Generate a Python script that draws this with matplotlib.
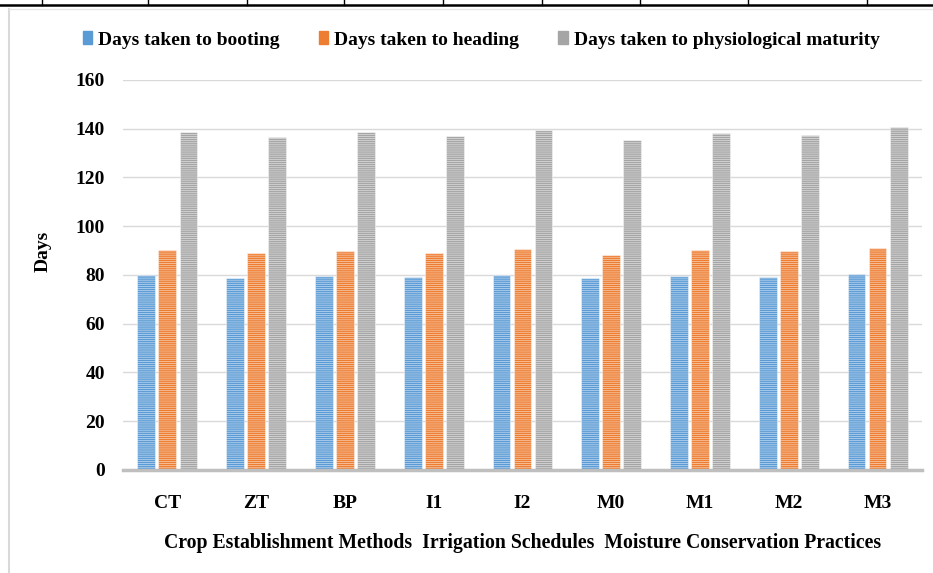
import numpy as np
import matplotlib
matplotlib.use("Agg")
import matplotlib.pyplot as plt
from matplotlib.lines import Line2D

# values
treatments = ['CT', 'ZT', 'BP', 'I1', 'I2', 'M0', 'M1', 'M2', 'M3']
booting = [80.0, 78.8, 79.7, 79.3, 80.0, 78.8, 79.7, 79.3, 80.4]
heading = [90.4, 89.0, 89.8, 89.0, 90.8, 88.2, 90.4, 89.8, 91.2]
maturity = [138.8, 136.8, 138.8, 137.2, 139.4, 135.4, 138.4, 137.6, 140.7]
series_names = ['Days taken to booting', 'Days taken to heading',
                'Days taken to physiological maturity']
y_ticks = [0, 20, 40, 60, 80, 100, 120, 140, 160]

colors = ['#5B9BD5', '#ED7D31', '#A5A5A5']

plt.rcParams['font.family'] = ['Liberation Serif', 'DejaVu Serif']
plt.rcParams['font.weight'] = 'bold'
plt.rcParams['hatch.linewidth'] = 0.6

fig = plt.figure(figsize=(9.33, 5.73), dpi=100)
ax = fig.add_axes([0.1318, 0.1798, 0.8564, 0.6806])

x = np.arange(len(treatments))
width = 0.2
step = 0.237
for i, (vals, name) in enumerate(zip([booting, heading, maturity], series_names)):
    ax.bar(x + (i - 1) * step, vals, width, color=colors[i],
           edgecolor=(1, 1, 1, 0.55), linewidth=0.6, hatch='--------',
           label=name, zorder=2)

ax.set_xlim(-0.5, len(treatments) - 0.5)
ax.set_ylim(0, 160)
ax.set_yticks(y_ticks)
ax.set_xticks(x)
ax.set_xticklabels(treatments)
ax.tick_params(axis='both', length=0, labelsize=14)
ax.tick_params(axis='y', pad=13)
ax.tick_params(axis='x', pad=18)
for lab in ax.get_xticklabels() + ax.get_yticklabels():
    lab.set_fontweight('bold')

ax.grid(axis='y', color='#D9D9D9', linewidth=1, zorder=0)
ax.set_axisbelow(True)
for s in ['top', 'right', 'left']:
    ax.spines[s].set_visible(False)
ax.spines['bottom'].set_color('#BFBFBF')
ax.spines['bottom'].set_linewidth(2.5)
ax.spines['bottom'].set_zorder(3)

ax.set_ylabel('Days', fontsize=14, fontweight='bold')
ax.yaxis.set_label_coords(-0.089, 0.56)
ax.set_xlabel('Crop Establishment Methods  Irrigation Schedules  Moisture Conservation Practices',
              fontsize=14.2, fontweight='bold', labelpad=15)

handles = [plt.Rectangle((0, 0), 1, 1, color=c) for c in colors]
fig.legend(handles, series_names, loc='center', bbox_to_anchor=(481 / 933, 1 - 40 / 573),
           ncol=3, frameon=False, handlelength=0.5, handleheight=0.6,
           handletextpad=0.3, columnspacing=2.0, prop={'weight': 'bold', 'size': 14})

# chart frame and the table lines showing above it
fig.add_artist(Line2D([9 / 933, 9 / 933], [0, 1 - 9 / 573], transform=fig.transFigure,
                      color='#D9D9D9', linewidth=1.5))
fig.add_artist(Line2D([9 / 933, 1], [1 - 9 / 573, 1 - 9 / 573], transform=fig.transFigure,
                      color='#E6E6E6', linewidth=1))
fig.add_artist(Line2D([0, 1], [1 - 5 / 573, 1 - 5 / 573], transform=fig.transFigure,
                      color='black', linewidth=1.8))
for px in [42, 148, 247, 344, 443, 542, 640, 748, 867]:
    fig.add_artist(Line2D([px / 933, px / 933], [1 - 5 / 573, 1], transform=fig.transFigure,
                          color='black', linewidth=1))

fig.savefig('out.png', dpi=100)
